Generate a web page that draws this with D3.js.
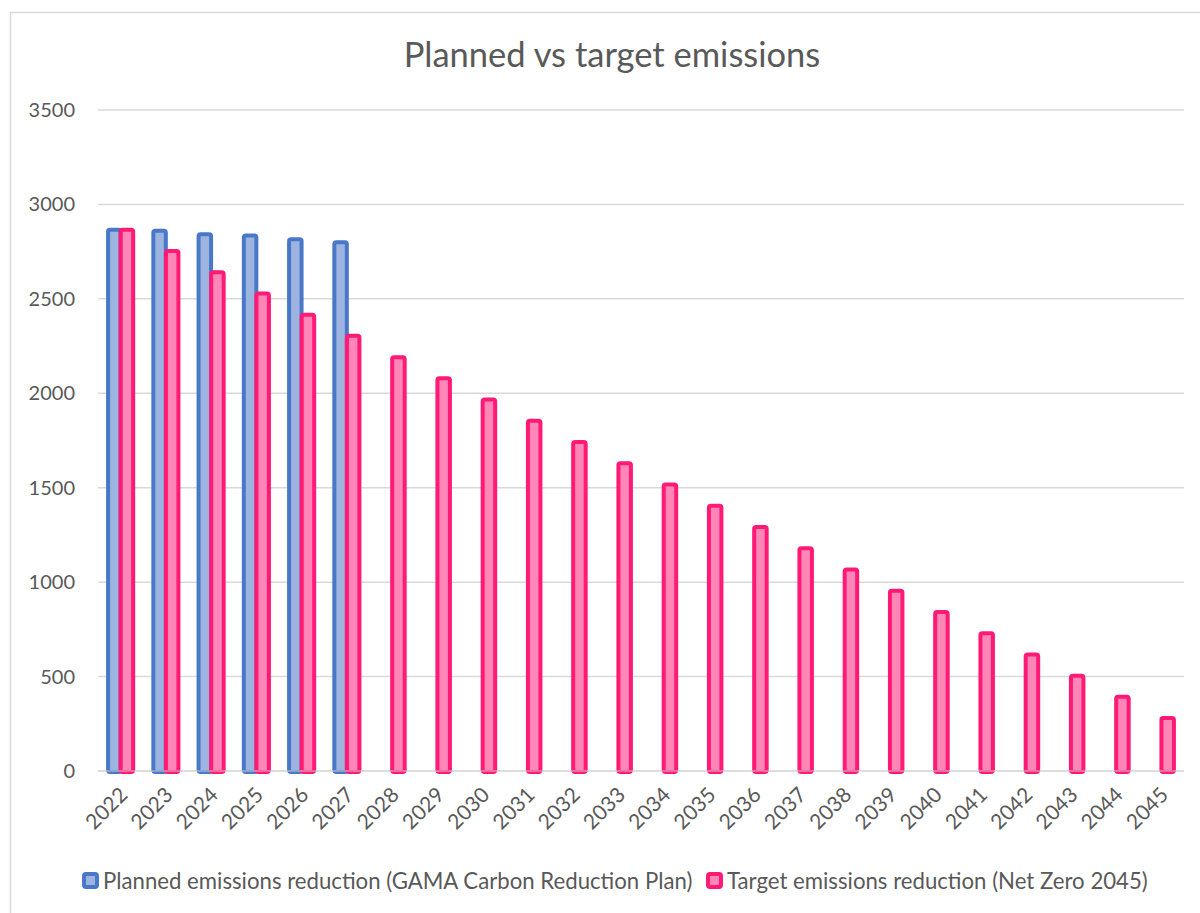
<!DOCTYPE html>
<html>
<head>
<meta charset="utf-8">
<script src="https://cdn.jsdelivr.net/npm/d3@7"></script>
<style>
    body { margin: 0; background: #fff; }
    svg text { font-family: Lato, "Open Sans", sans-serif; fill: #595959; }
</style>
</head>
<body>
<svg width="1200" height="913"></svg>
<script>
// values
const years = ["2022", "2023", "2024", "2025", "2026", "2027", "2028", "2029", "2030", "2031", "2032", "2033",
    "2034", "2035", "2036", "2037", "2038", "2039", "2040", "2041", "2042", "2043", "2044", "2045"];
const planned = [2866, 2860, 2842, 2836, 2816, 2800];
const target = [2866, 2754, 2641, 2529, 2416, 2304, 2191, 2079, 1967, 1854, 1742, 1629,
    1517, 1404, 1292, 1180, 1067, 955, 842, 730, 617, 505, 393, 280];
const yTicks = [0, 500, 1000, 1500, 2000, 2500, 3000, 3500];
const seriesNames = ["Planned emissions reduction (GAMA Carbon Reduction Plan)",
    "Target emissions reduction (Net Zero 2045)"];

const svg = d3.select("svg"),
    width = +svg.attr("width"),
    height = +svg.attr("height");

const margin = {left: 98, right: 16, top: 110, bottom: 142};

// chart frame
svg.append("rect")
    .attr("x", 10.5).attr("y", 12.5)
    .attr("width", width + 20).attr("height", height + 20)
    .attr("fill", "none")
    .attr("stroke", "#d9d9d9")
    .attr("stroke-width", 1.5);

svg.append("text")
    .attr("x", 612).attr("y", 67)
    .attr("text-anchor", "middle")
    .style("font-size", "34.5px")
    .text("Planned vs target emissions");

const x = d3.scaleBand()
    .domain(years)
    .range([margin.left, width - margin.right]);

const y = d3.scaleLinear()
    .domain([0, 3500])
    .range([height - margin.bottom, margin.top]);

// gridlines
svg.append("g")
    .selectAll("line")
    .data(yTicks)
    .enter().append("line")
    .attr("x1", margin.left).attr("x2", width - margin.right)
    .attr("y1", d => y(d)).attr("y2", d => y(d))
    .attr("stroke", "#d9d9d9")
    .attr("stroke-width", 1.5);

// y labels
svg.append("g")
    .selectAll("text")
    .data(yTicks)
    .enter().append("text")
    .attr("x", 75)
    .attr("y", d => y(d))
    .attr("dy", "0.35em")
    .attr("text-anchor", "end")
    .style("font-size", "20px")
    .text(d => d);

const barW = 12.5,
    offset = 6.3;
const colors = [
    {stroke: "#4a78c8", fill: "#9db3e0"},
    {stroke: "#ff1a75", fill: "#ff86b6"}
];

function drawBars(values, i) {
    const dx = i === 0 ? -offset : offset;
    svg.append("g")
        .selectAll("rect")
        .data(values)
        .enter().append("rect")
        .attr("x", (d, k) => x(years[k]) + x.bandwidth() / 2 + dx - barW / 2)
        .attr("y", d => y(d))
        .attr("width", barW)
        .attr("height", d => y(0) - y(d) + 1)
        .attr("rx", 2)
        .attr("fill", colors[i].fill)
        .attr("stroke", colors[i].stroke)
        .attr("stroke-width", 4);
}
drawBars(planned, 0);
drawBars(target, 1);

// redraw the zero line over the bar bottoms
svg.append("line")
    .attr("x1", margin.left).attr("x2", width - margin.right)
    .attr("y1", y(0)).attr("y2", y(0))
    .attr("stroke", "#d9d9d9")
    .attr("stroke-width", 1.5)
    .attr("opacity", 0.6);

// x labels
svg.append("g")
    .selectAll("text")
    .data(years)
    .enter().append("text")
    .attr("transform", d => `translate(${x(d) + x.bandwidth() / 2 + 3},${y(0) + 20}) rotate(-45)`)
    .attr("text-anchor", "end")
    .attr("dy", "0.35em")
    .style("font-size", "21px")
    .text(d => d);

// legend
const legend = [{x: 82, name: seriesNames[0]}, {x: 706, name: seriesNames[1]}];
legend.forEach((l, i) => {
    svg.append("rect")
        .attr("x", l.x + 2).attr("y", 874)
        .attr("width", 13).attr("height", 13)
        .attr("rx", 2)
        .attr("fill", colors[i].fill)
        .attr("stroke", colors[i].stroke)
        .attr("stroke-width", 4);
    svg.append("text")
        .attr("x", l.x + 21).attr("y", 889)
        .style("font-size", "22.2px")
        .text(l.name);
});
</script>
</body>
</html>
